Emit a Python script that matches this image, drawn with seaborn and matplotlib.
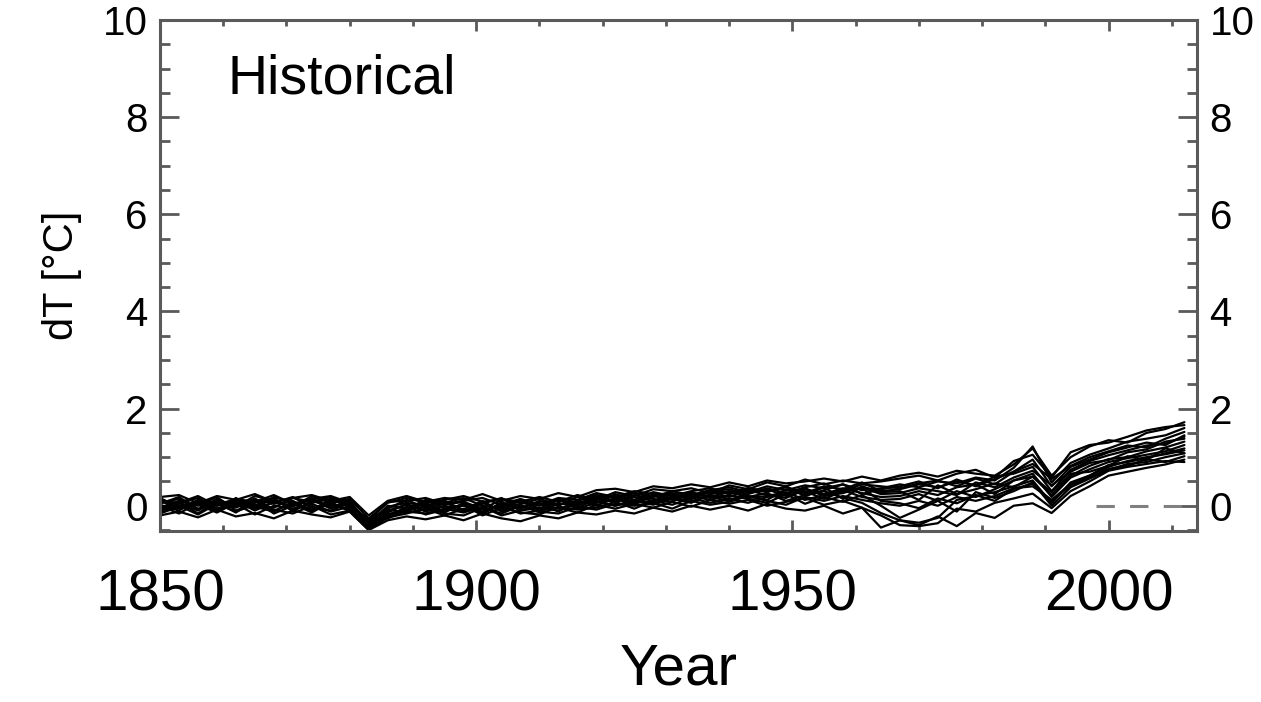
import numpy as np
import pandas as pd
import matplotlib
matplotlib.use("Agg")
import matplotlib.pyplot as plt
import seaborn as sns
from matplotlib.ticker import MultipleLocator

# ---------------- data (every 3 years) ----------------
years = list(range(1850, 2013, 3))  # 1850 ... 2012 (55 points)

m01 = [0.18, 0.22, 0.05, 0.20, 0.12, 0.24, 0.08, 0.16, 0.22, 0.10,
       0.18, -0.20, 0.10, 0.20, 0.08, 0.16, 0.12, 0.24, 0.10, 0.20,
       0.14, 0.26, 0.18, 0.32, 0.35, 0.28, 0.40, 0.36, 0.44, 0.38,
       0.48, 0.40, 0.52, 0.46, 0.50, 0.56, 0.50, 0.60, 0.52, 0.62,
       0.68, 0.60, 0.72, 0.66, 0.62, 0.85, 1.18, 0.62, 1.00, 1.22,
       1.35, 1.30, 1.50, 1.58, 1.72]
m02 = [-0.20, -0.12, -0.24, -0.08, -0.22, -0.15, -0.26, -0.10, -0.18, -0.24,
       -0.12, -0.50, -0.30, -0.22, -0.28, -0.20, -0.30, -0.16, -0.26, -0.32,
       -0.20, -0.26, -0.14, -0.18, -0.10, -0.16, -0.04, -0.12, 0.00, -0.08,
       0.00, -0.10, 0.04, -0.06, -0.10, 0.00, -0.16, -0.04, -0.45, -0.30,
       -0.40, -0.22, -0.42, -0.15, -0.25, 0.00, 0.05, -0.15, 0.20, 0.40,
       0.62, 0.70, 0.78, 0.85, 0.95]
m03 = [0.02, -0.10, 0.12, -0.06, 0.08, 0.00, 0.12, -0.08, 0.06, 0.14,
       -0.04, -0.40, -0.10, 0.02, -0.10, 0.06, -0.08, 0.10, -0.12, 0.02,
       -0.14, 0.06, -0.04, 0.14, 0.08, 0.18, 0.10, 0.24, 0.14, 0.28,
       0.18, 0.32, 0.22, 0.16, 0.34, 0.24, 0.36, 0.26, 0.18, 0.20,
       0.30, 0.22, 0.38, 0.44, 0.24, 0.52, 0.66, 0.18, 0.58, 0.75,
       0.90, 0.98, 1.05, 1.12, 1.25]
m04 = [-0.10, 0.08, -0.16, 0.10, -0.04, 0.15, -0.10, 0.04, -0.14, 0.08,
       0.12, -0.44, -0.18, -0.06, 0.06, -0.12, 0.04, -0.18, 0.08, -0.10,
       0.04, -0.12, 0.10, 0.00, 0.16, 0.06, 0.20, 0.12, 0.26, 0.16,
       0.30, 0.20, 0.12, 0.34, 0.22, 0.38, 0.14, 0.40, 0.28, 0.30,
       0.12, 0.42, 0.24, 0.34, 0.46, 0.38, 0.60, 0.28, 0.66, 0.70,
       0.82, 1.02, 0.94, 1.18, 1.08]
m05 = [0.14, 0.00, 0.08, -0.12, 0.16, -0.06, 0.06, 0.18, -0.04, -0.10,
       0.06, -0.34, -0.06, 0.12, -0.04, 0.10, -0.10, 0.04, 0.16, -0.06,
       0.10, 0.00, 0.18, 0.06, 0.24, 0.12, 0.28, 0.20, 0.14, 0.32,
       0.24, 0.36, 0.28, 0.40, 0.20, 0.32, 0.44, 0.24, 0.34, 0.40,
       0.50, 0.36, 0.54, 0.40, 0.55, 0.70, 0.95, 0.40, 0.80, 0.95,
       1.10, 1.20, 1.30, 1.25, 1.45]
m06 = [-0.04, 0.10, 0.00, 0.18, -0.10, 0.06, 0.16, -0.12, 0.10, 0.00,
       -0.06, -0.48, -0.20, -0.08, 0.04, -0.14, 0.06, -0.08, -0.02, 0.10,
       -0.06, 0.12, 0.00, 0.20, 0.10, 0.22, 0.14, 0.08, 0.28, 0.18,
       0.10, 0.26, 0.34, 0.20, 0.30, 0.14, 0.30, 0.36, 0.10, 0.05,
       -0.05, 0.15, 0.05, 0.22, 0.10, 0.35, 0.45, 0.10, 0.42, 0.58,
       0.76, 0.82, 0.96, 0.90, 1.02]
m07 = [0.00, -0.16, 0.06, -0.10, 0.04, -0.18, 0.00, -0.06, 0.04, -0.12,
       -0.02, -0.42, -0.18, -0.12, -0.16, -0.06, -0.14, -0.02, -0.20, -0.10,
       -0.04, -0.10, 0.04, 0.10, 0.00, 0.12, 0.06, 0.18, 0.08, 0.22,
       0.14, 0.18, 0.26, 0.10, 0.22, 0.30, 0.16, 0.06, -0.15, -0.30,
       -0.35, -0.25, 0.12, 0.20, 0.28, 0.40, 0.52, 0.05, 0.48, 0.62,
       0.80, 0.92, 1.00, 1.06, 1.14]
m08 = [0.06, 0.14, -0.06, 0.04, 0.12, 0.02, -0.04, 0.16, 0.08, 0.18,
       0.02, -0.36, -0.02, 0.06, 0.00, 0.06, 0.16, 0.00, -0.06, 0.04,
       0.14, 0.02, 0.10, 0.22, 0.16, 0.26, 0.18, 0.30, 0.22, 0.32,
       0.38, 0.28, 0.40, 0.32, 0.42, 0.36, 0.44, 0.32, 0.36, 0.44,
       0.38, 0.50, 0.46, 0.58, 0.52, 0.78, 1.22, 0.48, 0.88, 1.05,
       1.18, 1.32, 1.38, 1.45, 1.60]
m09 = [-0.12, 0.04, 0.16, -0.06, 0.00, 0.10, -0.16, 0.00, 0.16, -0.04,
       0.10, -0.46, -0.14, 0.04, -0.12, 0.00, -0.12, 0.06, -0.10, 0.12,
       -0.10, 0.14, -0.06, 0.06, 0.14, 0.02, 0.22, 0.14, 0.06, 0.24,
       0.30, 0.16, 0.20, 0.28, 0.12, 0.22, 0.32, 0.18, 0.12, 0.14,
       0.24, 0.10, 0.30, 0.18, 0.34, 0.52, 0.60, 0.22, 0.62, 0.82,
       0.96, 1.00, 1.12, 1.20, 1.32]
m10 = [0.16, -0.04, 0.10, 0.06, -0.14, 0.12, 0.04, 0.10, -0.10, 0.14,
       0.00, -0.28, -0.08, -0.14, 0.10, -0.04, 0.00, -0.12, 0.04, -0.04,
       0.06, -0.06, 0.04, 0.08, 0.00, 0.10, 0.02, 0.16, 0.20, 0.12,
       0.22, 0.14, 0.06, 0.24, 0.36, 0.20, 0.26, 0.38, 0.24, 0.26,
       0.36, 0.30, 0.22, 0.48, 0.38, 0.58, 0.72, 0.42, 0.70, 0.88,
       0.94, 1.10, 1.16, 1.32, 1.38]
m11 = [-0.14, 0.06, -0.10, 0.12, 0.00, -0.04, 0.18, 0.06, -0.08, 0.08,
       -0.12, -0.50, -0.24, -0.16, -0.06, -0.20, -0.06, -0.14, 0.00, -0.16,
       -0.10, -0.04, -0.14, 0.02, -0.06, 0.04, -0.04, 0.08, -0.02, 0.12,
       0.04, 0.12, 0.00, 0.08, 0.16, 0.02, 0.10, -0.04, -0.20, -0.40,
       -0.42, -0.36, -0.06, -0.12, 0.06, 0.15, 0.25, -0.05, 0.30, 0.50,
       0.72, 0.80, 0.86, 0.92, 0.90]
m12 = [0.10, -0.06, 0.04, 0.00, 0.10, -0.10, 0.08, 0.00, 0.12, -0.06,
       0.08, -0.38, 0.00, -0.06, 0.12, 0.02, 0.08, -0.06, 0.12, 0.06,
       0.00, 0.12, 0.06, 0.16, 0.20, 0.08, 0.22, 0.26, 0.18, 0.30,
       0.34, 0.24, 0.36, 0.26, 0.38, 0.46, 0.30, 0.44, 0.40, 0.36,
       0.46, 0.52, 0.40, 0.56, 0.44, 0.70, 0.86, 0.55, 0.82, 1.00,
       1.12, 1.24, 1.20, 1.38, 1.52]
m13 = [-0.16, -0.02, 0.02, -0.14, 0.06, -0.02, -0.12, 0.08, -0.10, 0.04,
       -0.08, -0.44, -0.22, -0.02, -0.18, -0.08, 0.02, -0.20, -0.04, -0.14,
       -0.18, -0.02, -0.08, -0.04, 0.08, -0.06, 0.10, 0.02, 0.16, 0.06,
       0.14, 0.06, 0.18, 0.24, 0.04, 0.18, 0.08, 0.22, 0.00, -0.25,
       -0.08, 0.10, -0.12, 0.28, 0.16, 0.30, 0.48, 0.00, 0.38, 0.56,
       0.74, 0.86, 0.90, 1.00, 1.08]
m14 = [0.04, 0.18, -0.08, 0.14, -0.02, 0.20, 0.10, -0.02, 0.20, 0.06,
       0.14, -0.26, 0.06, 0.16, 0.06, 0.12, 0.20, 0.08, 0.14, 0.08,
       0.18, 0.08, 0.22, 0.12, 0.28, 0.20, 0.34, 0.30, 0.36, 0.26,
       0.42, 0.34, 0.48, 0.40, 0.54, 0.44, 0.52, 0.46, 0.50, 0.56,
       0.62, 0.52, 0.66, 0.74, 0.58, 0.92, 1.05, 0.58, 1.10, 1.25,
       1.30, 1.42, 1.55, 1.62, 1.66]
m15 = [-0.08, 0.00, -0.18, 0.04, -0.12, 0.02, -0.08, -0.16, 0.00, -0.18,
       -0.10, -0.38, -0.26, -0.10, -0.02, -0.16, -0.20, -0.04, -0.16, 0.00,
       -0.12, -0.16, -0.02, -0.08, 0.04, 0.00, 0.06, -0.06, 0.10, 0.02,
       0.08, 0.20, 0.10, 0.02, 0.18, 0.10, 0.20, 0.12, 0.05, 0.00,
       0.10, 0.00, 0.18, 0.10, 0.20, 0.36, 0.40, 0.12, 0.45, 0.62,
       0.84, 0.90, 0.98, 1.08, 1.18]
m16 = [0.10, 0.06, 0.20, 0.00, 0.14, 0.08, 0.22, 0.04, 0.14, 0.20,
       0.06, -0.32, 0.08, 0.10, 0.16, 0.04, 0.10, 0.16, 0.02, 0.14,
       0.02, 0.16, 0.12, 0.26, 0.18, 0.30, 0.24, 0.20, 0.30, 0.36,
       0.26, 0.36, 0.30, 0.38, 0.26, 0.40, 0.34, 0.48, 0.30, 0.34,
       0.44, 0.38, 0.50, 0.42, 0.60, 0.66, 0.80, 0.30, 0.74, 0.92,
       1.04, 1.14, 1.24, 1.28, 1.42]

members = {"m01": m01, "m02": m02, "m03": m03, "m04": m04, "m05": m05,
           "m06": m06, "m07": m07, "m08": m08, "m09": m09, "m10": m10,
           "m11": m11, "m12": m12, "m13": m13, "m14": m14, "m15": m15,
           "m16": m16}

# dashed zero reference line (years covered)
ref_years = [1998, 2014]
ref_value = 0.0

x_ticks = [1850, 1900, 1950, 2000]
y_ticks = [0, 2, 4, 6, 8, 10]
panel_title = "Historical"

# ---------------- build table ----------------
rows = []
for name, vals in members.items():
    for yr, v in zip(years, vals):
        rows.append({"member": name, "year": yr, "dT": v})
df = pd.DataFrame(rows)

# ---------------- style ----------------
sns.set_style("white")
plt.rcParams["font.family"] = ["Liberation Sans", "DejaVu Sans"]
plt.rcParams["text.color"] = "black"
plt.rcParams["axes.labelcolor"] = "black"

fig = plt.figure(figsize=(12.61, 7.02), dpi=100)
ax = fig.add_axes([0.1269, 0.2436, 0.8224, 0.7279])

sns.lineplot(data=df, x="year", y="dT", units="member", estimator=None,
             color="black", linewidth=1.6, ax=ax, legend=False)

ax.hlines(ref_value, ref_years[0], ref_years[1], colors="#808080",
          linestyles=(0, (6, 5)), linewidth=2.2, zorder=1)

ax.set_xlim(1850, 2014)
ax.set_ylim(-0.52, 10)

ax.set_xticks(x_ticks)
ax.set_yticks(y_ticks)
ax.xaxis.set_minor_locator(MultipleLocator(10))
ax.yaxis.set_minor_locator(MultipleLocator(0.5))

spine_col = "#5a5a5a"
for s in ax.spines.values():
    s.set_visible(True)
    s.set_color(spine_col)
    s.set_linewidth(2.2)

ax.tick_params(axis="both", which="both", direction="in", colors=spine_col,
               labelcolor="black", width=2.0)
ax.tick_params(axis="y", which="major", length=14, labelsize=29,
               left=True, right=True, labelleft=True, labelright=True, pad=9)
ax.tick_params(axis="y", which="minor", length=7, left=True, right=True)
ax.tick_params(axis="x", which="major", length=8, labelsize=42,
               bottom=True, top=True, pad=27)
ax.tick_params(axis="x", which="minor", length=4, bottom=True, top=True)

ax.set_xlabel("Year", fontsize=42, color="black")
ax.xaxis.set_label_coords(0.5, -0.219)
ax.set_ylabel("dT [°C]", fontsize=30, color="black")
ax.yaxis.set_label_coords(-0.075, 0.5)

ax.text(0.065, 0.857, panel_title, transform=ax.transAxes, fontsize=40,
        ha="left", va="baseline", color="black")

fig.savefig("out.png", dpi=100, facecolor="white")
